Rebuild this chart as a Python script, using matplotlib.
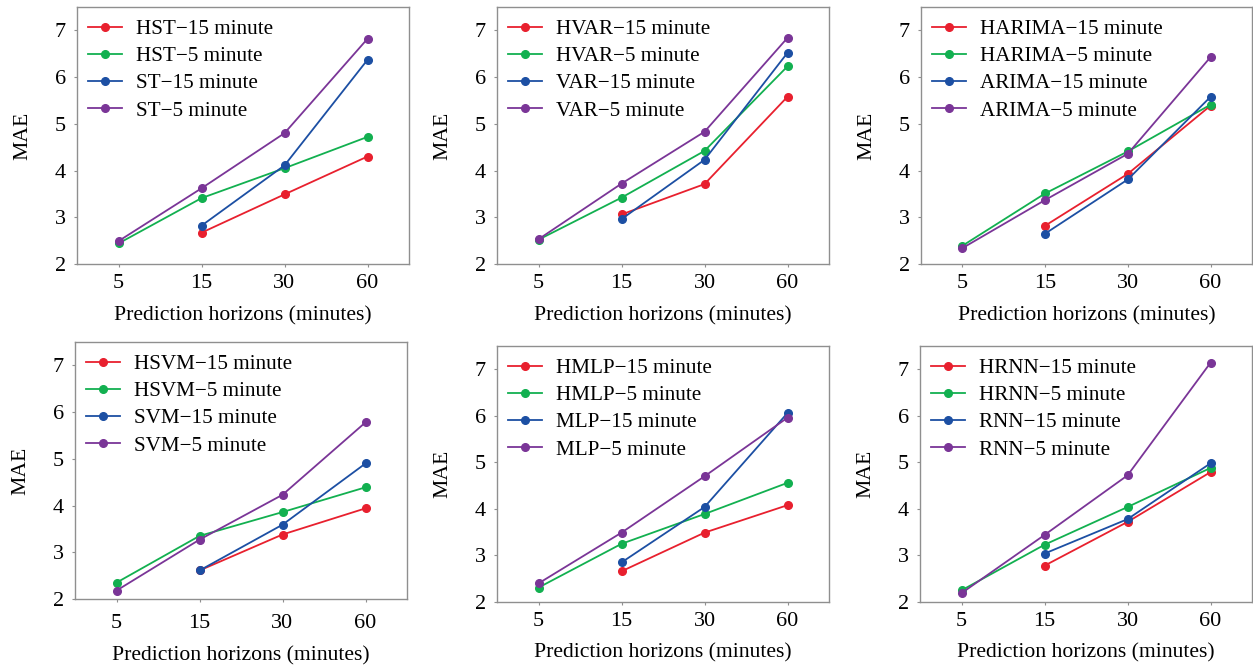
import matplotlib
matplotlib.use("Agg")
import matplotlib.pyplot as plt

horizons = ["5", "15", "30", "60"]
xpos = [0, 1, 2, 3]

# Each panel: names of the four series and their values (None = missing)
panel_names = [
    ["HST−15 minute", "HST−5 minute", "ST−15 minute", "ST−5 minute"],
    ["HVAR−15 minute", "HVAR−5 minute", "VAR−15 minute", "VAR−5 minute"],
    ["HARIMA−15 minute", "HARIMA−5 minute", "ARIMA−15 minute", "ARIMA−5 minute"],
    ["HSVM−15 minute", "HSVM−5 minute", "SVM−15 minute", "SVM−5 minute"],
    ["HMLP−15 minute", "HMLP−5 minute", "MLP−15 minute", "MLP−5 minute"],
    ["HRNN−15 minute", "HRNN−5 minute", "RNN−15 minute", "RNN−5 minute"],
]

hst_15 = [None, 2.67, 3.49, 4.30]
hst_5 = [2.44, 3.41, 4.05, 4.72]
st_15 = [None, 2.82, 4.11, 6.37]
st_5 = [2.49, 3.62, 4.80, 6.82]

hvar_15 = [None, 3.06, 3.71, 5.58]
hvar_5 = [2.52, 3.42, 4.42, 6.23]
var_15 = [None, 2.96, 4.23, 6.52]
var_5 = [2.53, 3.72, 4.83, 6.84]

harima_15 = [None, 2.82, 3.93, 5.39]
harima_5 = [2.39, 3.51, 4.41, 5.41]
arima_15 = [None, 2.65, 3.81, 5.58]
arima_5 = [2.34, 3.37, 4.36, 6.43]

hsvm_15 = [None, 2.61, 3.38, 3.94]
hsvm_5 = [2.35, 3.35, 3.86, 4.39]
svm_15 = [None, 2.61, 3.59, 4.90]
svm_5 = [2.18, 3.27, 4.23, 5.78]

hmlp_15 = [None, 2.66, 3.49, 4.08]
hmlp_5 = [2.31, 3.25, 3.89, 4.56]
mlp_15 = [None, 2.85, 4.04, 6.06]
mlp_5 = [2.40, 3.49, 4.70, 5.96]

hrnn_15 = [None, 2.78, 3.72, 4.79]
hrnn_5 = [2.25, 3.23, 4.04, 4.88]
rnn_15 = [None, 3.04, 3.78, 4.98]
rnn_5 = [2.19, 3.44, 4.72, 7.14]

panel_values = [
    [hst_15, hst_5, st_15, st_5],
    [hvar_15, hvar_5, var_15, var_5],
    [harima_15, harima_5, arima_15, arima_5],
    [hsvm_15, hsvm_5, svm_15, svm_5],
    [hmlp_15, hmlp_5, mlp_15, mlp_5],
    [hrnn_15, hrnn_5, rnn_15, rnn_5],
]

colors = ["#e8202e", "#12b050", "#1c4fa3", "#7a3597"]

W, H = 1253, 665
fig = plt.figure(figsize=(W / 100, H / 100), dpi=100)
plt.rcParams["font.family"] = ["Liberation Serif", "DejaVu Serif"]

# pixel boxes: left, right, top, bottom, x tick pad, x label pad
boxes = [
    (77, 409, 7, 264, 7, 10),
    (497, 829, 7, 264, 7, 10),
    (921, 1252, 7, 264, 7, 10),
    (75, 407, 342, 599, 11, 9),
    (497, 829, 346, 602, 7, 9),
    (920, 1252, 346, 602, 7, 9),
]

for box, names, vals in zip(boxes, panel_names, panel_values):
    l, r, t, b, xpad, lpad = box
    ax = fig.add_axes([l / W, (H - b) / H, (r - l) / W, (b - t) / H])
    for name, v, c in zip(names, vals, colors):
        xs = [x for x, y in zip(xpos, v) if y is not None]
        ys = [y for y in v if y is not None]
        ax.plot(xs, ys, color=c, lw=1.3, marker="o", ms=5.5, label=name)
    ax.set_xlim(-0.5, 3.5)
    ax.set_ylim(2, 7.5)
    ax.set_xticks(xpos)
    ax.set_xticklabels(horizons)
    ax.set_yticks([2, 3, 4, 5, 6, 7])
    ax.tick_params(length=2, width=0.8, color="#8f8f8f", labelsize=16)
    ax.tick_params(axis="y", pad=6)
    ax.tick_params(axis="x", pad=xpad - 2)
    for s in ax.spines.values():
        s.set_color("#8f8f8f")
        s.set_linewidth(1.0)
    ax.set_xlabel("Prediction horizons (minutes)", fontsize=15.6, labelpad=lpad)
    ax.set_ylabel("MAE", fontsize=15.6, labelpad=16.5)
    ax.legend(loc="upper left", bbox_to_anchor=(0.008, 0.985), frameon=False,
              fontsize=15.2, handlelength=1.6, handletextpad=0.65,
              labelspacing=0.35, borderaxespad=0.0, borderpad=0.4)

fig.savefig("out.png", dpi=100)
